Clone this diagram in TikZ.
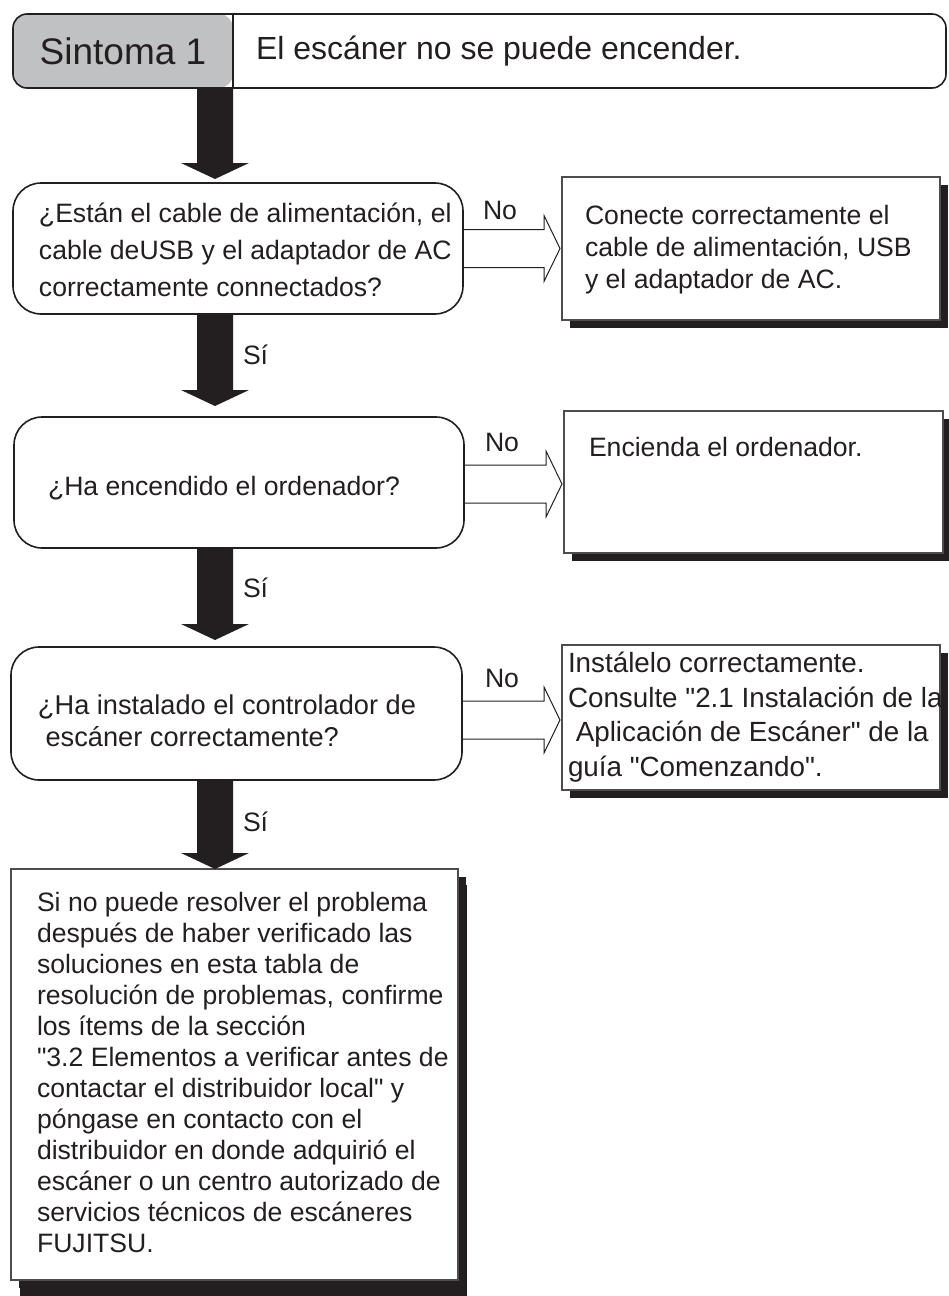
\documentclass[tikz,border=0pt]{standalone}
\usepackage{fontspec}
\newfontfamily\lib{Liberation Sans}
\usetikzlibrary{calc,shadows}
\definecolor{ink}{HTML}{231F20}
\definecolor{hdrgray}{HTML}{C0C1C3}
\definecolor{boxline}{HTML}{4D4D4F}
\newcommand{\sarrow}[3]{\fill[ink] let \p1=(#1), \p2=(#2) in
  (\x1-9pt,\y1) -- (\x1+9pt,\y1) -- (\x1+9pt,\y2+#3+8pt) -- (\x1+17pt,\y2+#3+8pt)
  -- (\x1,\y2+#3) -- (\x1-17pt,\y2+#3+8pt) -- (\x1-9pt,\y2+#3+8pt) -- cycle;}
\newcommand{\harrow}[3]{\draw[hollow] let \p1=(#1.east), \p2=(#2.west) in
  (\x1,\y1+#3+9.5pt) -- (\x2-9pt,\y1+#3+9.5pt) -- (\x2-9pt,\y1+#3+16.5pt) -- (\x2-1pt,\y1+#3)
  -- (\x2-9pt,\y1+#3-16.5pt) -- (\x2-9pt,\y1+#3-9.5pt) -- (\x1,\y1+#3-9.5pt);}
\begin{document}
\begin{tikzpicture}[x=0.5pt,y=-0.5pt,
  txt/.style={text=ink, inner sep=0pt, outer sep=0pt, align=left, font=\lib\fontsize{13.3pt}{16pt}\selectfont},
  hdrtxt/.style={text=ink, inner sep=0pt, outer sep=0pt, font=\lib\fontsize{16pt}{20pt}\selectfont},
  decbox/.style={draw=ink, line width=0.8pt, rounded corners=14pt, fill=white, inner sep=0pt, outer sep=0pt},
  resbox/.style={draw=boxline, line width=0.6pt, fill=white, inner sep=0pt, outer sep=0pt,
    drop shadow={shadow xshift=4pt, shadow yshift=-4pt, opacity=1, fill=ink}},
  hollow/.style={draw=ink, line width=0.5pt, line join=miter},
]
\useasboundingbox (0,0) rectangle (948,1296);
\fill[white] (0,0) rectangle (948,1296);

% header
\node[draw=ink, line width=0.8pt, rounded corners=7pt, minimum width=466.5pt, minimum height=37pt,
  inner sep=0pt, outer sep=0pt,
  path picture={\fill[hdrgray] (path picture bounding box.north west) rectangle ([xshift=110pt]path picture bounding box.south west);}]
  (hdr) at (479.5,51) {};
\draw[ink, line width=0.8pt] ([xshift=110pt]hdr.north west) -- ([xshift=110pt]hdr.south west);
\node[hdrtxt, font=\lib\fontsize{18.5pt}{20pt}\selectfont] (s1) at (123,51) {Sintoma 1};
\node[hdrtxt, anchor=west] (s1t) at (256,51) {El escáner no se puede encender.};

% decision boxes
\node[decbox, minimum width=225pt, minimum height=65.5pt] (d1) at (238,248.5) {};
\node[txt, anchor=west, font=\lib\fontsize{13.3pt}{18.5pt}\selectfont] (d1t) at (39,250) {¿Están el cable de alimentación, el\\cable deUSB y el adaptador de AC\\correctamente connectados?};

\node[decbox, minimum width=225pt, minimum height=65.5pt] (d2) at (239,482.5) {};
\node[txt, anchor=west] (d2t) at (48,488) {¿Ha encendido el ordenador?};

\node[decbox, minimum width=225.5pt, minimum height=66.5pt] (d3) at (236.5,713.5) {};
\node[txt, anchor=west, font=\lib\fontsize{13.6pt}{16pt}\selectfont] (d3t) at (38,721) {¿Ha instalado el controlador de\\\hspace*{0.28em}escáner correctamente?};

% result boxes
\node[resbox, minimum width=189pt, minimum height=71.5pt] (r1) at (751,248.5) {};
\node[txt, anchor=west] (r1t) at (585,250) {Conecte correctamente el\\cable de alimentación, USB\\y el adaptador de AC.};

\node[resbox, minimum width=189.5pt, minimum height=71pt] (r2) at (753.5,482) {};
\node[txt, anchor=west] (r2t) at (589,447) {Encienda el ordenador.};

\node[resbox, minimum width=189pt, minimum height=72.5pt] (r3) at (751,717.5) {};
\node[txt, anchor=west, font=\lib\fontsize{13.9pt}{17.3pt}\selectfont] (r3t) at (568,717) {Instálelo correctamente.\\Consulte "2.1 Instalación de la\\\hspace*{0.28em}Aplicación de Escáner" de la\\guía "Comenzando".};

% final box
\node[resbox, minimum width=223.5pt, minimum height=205.5pt,
  drop shadow={shadow xshift=4.5pt, shadow yshift=-8pt, opacity=1, fill=ink}] (fb) at (234.5,1074.5) {};
\node[txt, anchor=west, font=\lib\fontsize{13.3pt}{15.5pt}\selectfont] (fbt) at (37,1072.5) {Si no puede resolver el problema\\después de haber verificado las\\soluciones en esta tabla de\\resolución de problemas, confirme\\los ítems de la sección\\"3.2 Elementos a verificar antes de\\contactar el distribuidor local" y\\póngase en contacto con el\\distribuidor en donde adquirió el\\escáner o un centro autorizado de\\servicios técnicos de escáneres\\FUJITSU.};

% solid arrows
\coordinate (ax) at (215,0);
\sarrow{ax |- hdr.south}{ax |- d1.north}{2pt}
\sarrow{ax |- d1.south}{ax |- d2.north}{5.5pt}
\sarrow{ax |- d2.south}{ax |- d3.north}{3.5pt}
\sarrow{ax |- d3.south}{ax |- fb.north}{0pt}

% hollow arrows
\harrow{d1}{r1}{0pt}
\harrow{d2}{r2}{-0.75pt}
\harrow{d3}{r3}{-3.25pt}

% labels
\node[txt] (no1) at (500,210) {No};
\node[txt] (no2) at (502,442) {No};
\node[txt] (no3) at (502,678) {No};
\node[txt, anchor=west] (si1) at (243,355) {Sí};
\node[txt, anchor=west] (si2) at (243,588) {Sí};
\node[txt, anchor=west] (si3) at (243,822) {Sí};
\end{tikzpicture}
\end{document}
